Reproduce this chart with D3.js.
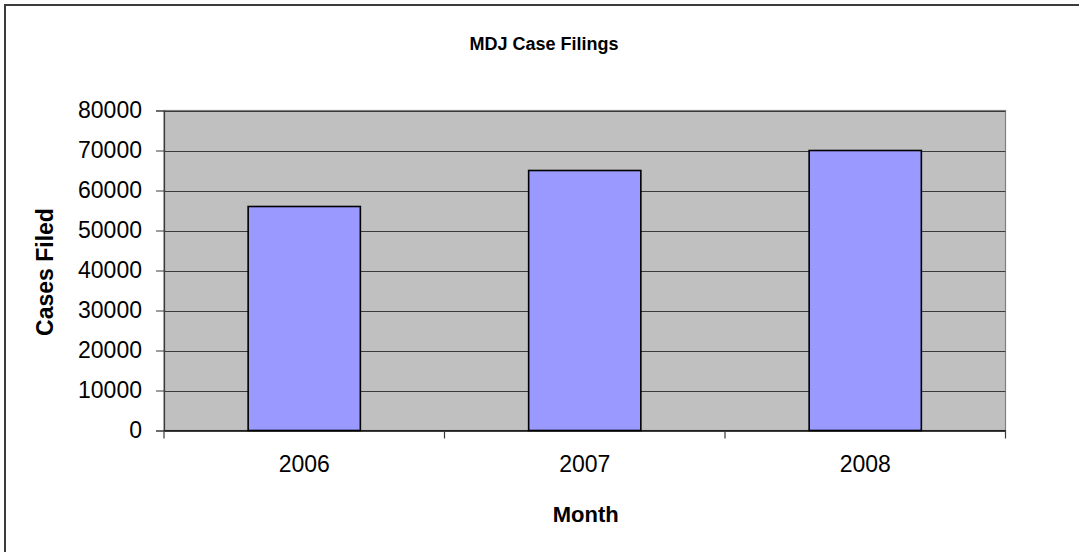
<!DOCTYPE html>
<html><head><meta charset="utf-8">
<script src="https://cdn.jsdelivr.net/npm/d3@7"></script>
<style>
html,body{margin:0;padding:0;background:#fff;}
svg{display:block;font-family:"Liberation Sans",Arial,sans-serif;}
</style></head>
<body>
<svg id="chart" width="1079" height="552"></svg>
<script>
const categories = ["2006", "2007", "2008"];
const casesFiled = [56000, 65000, 70000];
const yTicks = [0, 10000, 20000, 30000, 40000, 50000, 60000, 70000, 80000];
const chartTitle = "MDJ Case Filings";
const xTitle = "Month";
const yTitle = "Cases Filed";

const svg = d3.select("#chart");
const W = 1079, H = 552;
const plot = {left: 164, right: 1005.5, top: 110.5, bottom: 430.5};

// outer chart border
svg.append("rect").attr("x", 5).attr("y", 5).attr("width", W + 10).attr("height", H + 10)
  .attr("fill", "#fff").attr("stroke", "#3c3c3c").attr("stroke-width", 2);

const x = d3.scaleBand().domain(categories).range([plot.left, plot.right]).paddingInner(0.6).paddingOuter(0.3);
const xb = d3.scaleBand().domain(categories).range([plot.left, plot.right]);
const y = d3.scaleLinear().domain([0, 80000]).range([plot.bottom, plot.top]);

// plot background
svg.append("rect").attr("x", plot.left).attr("y", plot.top)
  .attr("width", plot.right - plot.left).attr("height", plot.bottom - plot.top)
  .attr("fill", "#c0c0c0").attr("stroke", "#808080").attr("stroke-width", 1.2);

// gridlines
svg.append("g").selectAll("line").data(yTicks.filter(d => d > 0)).join("line")
  .attr("x1", plot.left).attr("x2", plot.right)
  .attr("y1", d => Math.round(y(d)) + 0.5).attr("y2", d => Math.round(y(d)) + 0.5)
  .attr("stroke", "#3a3a3a").attr("stroke-width", 1);

// bars
svg.append("g").selectAll("rect").data(categories).join("rect")
  .attr("x", d => x(d)).attr("width", x.bandwidth())
  .attr("y", (d, i) => y(casesFiled[i])).attr("height", (d, i) => plot.bottom - y(casesFiled[i]))
  .attr("fill", "#9999ff").attr("stroke", "#000").attr("stroke-width", 1.6);

// y axis
const yAxis = d3.axisLeft(y).tickValues(yTicks).tickSize(8).tickPadding(14).tickFormat(d3.format("d"));
const gy = svg.append("g").attr("transform", `translate(${plot.left},0)`).call(yAxis);
gy.select(".domain").attr("stroke", "#3a3a3a").attr("stroke-width", 1.2);
gy.selectAll(".tick line").attr("stroke", "#3a3a3a");
gy.selectAll(".tick text").attr("font-size", 23).attr("fill", "#000")
  .attr("font-family", "Liberation Sans, Arial, sans-serif");

// x axis
const xAxis = d3.axisBottom(xb).tickSize(0).tickPadding(25);
const gx = svg.append("g").attr("transform", `translate(0,${plot.bottom})`).call(xAxis);
gx.select(".domain").attr("stroke", "#000").attr("stroke-width", 1.5);
gx.selectAll(".tick text").attr("font-size", 23).attr("fill", "#000")
  .attr("font-family", "Liberation Sans, Arial, sans-serif");
// tick marks at category boundaries
const bounds = [...categories.map(c => xb(c)), plot.right];
svg.append("g").selectAll("line").data(bounds).join("line")
  .attr("x1", d => d).attr("x2", d => d).attr("y1", plot.bottom).attr("y2", plot.bottom + 8)
  .attr("stroke", "#3a3a3a").attr("stroke-width", 1.2);

// titles
svg.append("text").attr("x", 544).attr("y", 50)
  .attr("text-anchor", "middle").attr("font-weight", "bold").attr("font-size", 18).text(chartTitle);
svg.append("text").attr("x", (plot.left + plot.right) / 2 + 1).attr("y", 522)
  .attr("text-anchor", "middle").attr("font-weight", "bold").attr("font-size", 22).text(xTitle);
svg.append("text").attr("transform", `translate(53,272) rotate(-90)`)
  .attr("text-anchor", "middle").attr("font-weight", "bold").attr("font-size", 23).text(yTitle);
</script>
</body></html>
